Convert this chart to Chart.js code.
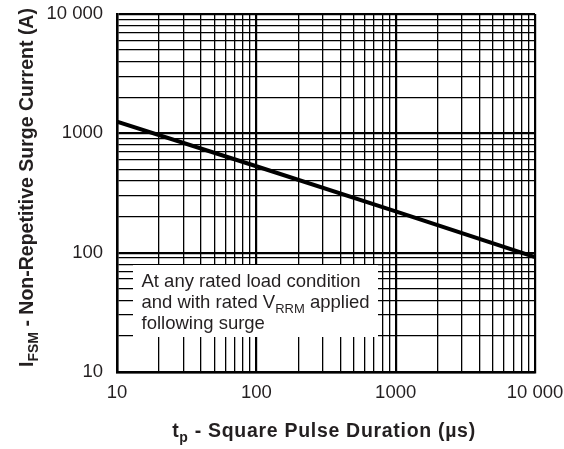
<!DOCTYPE html>
<html><head><meta charset="utf-8">
<script src="https://cdn.jsdelivr.net/npm/chart.js@4.4.1/dist/chart.umd.min.js"></script>
<style>html,body{margin:0;padding:0;background:#fff}#wrap{width:564px;height:449px}</style>
</head><body><div id="wrap"><canvas id="c"></canvas></div>
<script>
const pulseDuration = [10, 100, 1000, 10000];
const surgeCurrent = [1250, 530, 222, 92];
const decadeTicks = [10, 100, 1000, 10000];
const decadeLabels = ['10', '100', '1000', '10 000'];
const noteLines = ['At any rated load condition', 'and with rated V|RRM| applied', 'following surge'];

const FONT = '"Liberation Sans", Arial, Helvetica, sans-serif';
const INK = '#231f20';

function gridValues(min, max) {
  const out = [];
  for (let d = min; d < max; d *= 10) for (let m = 1; m < 10; m++) out.push(d * m);
  out.push(max);
  return out;
}
function isDecade(v) { return decadeTicks.includes(Math.round(v)); }
function labelFor(v) { const i = decadeTicks.indexOf(Math.round(v)); return i >= 0 ? decadeLabels[i] : ''; }

function drawSubText(ctx, text, x, y, size, bold, align, spacing) {
  const parts = text.split('|');
  const big = (bold ? 'bold ' : '') + size + 'px ' + FONT;
  const small = (bold ? 'bold ' : '') + Math.round(size * 0.72) + 'px ' + FONT;
  ctx.letterSpacing = (spacing || 0) + 'px';
  let total = 0;
  parts.forEach((p, i) => { ctx.font = i % 2 ? small : big; total += ctx.measureText(p).width; });
  let cx = align === 'center' ? x - total / 2 : x;
  ctx.textAlign = 'left';
  ctx.textBaseline = 'alphabetic';
  parts.forEach((p, i) => {
    ctx.font = i % 2 ? small : big;
    ctx.fillText(p, cx, y + (i % 2 ? size * 0.28 : 0));
    cx += ctx.measureText(p).width;
  });
  ctx.letterSpacing = '0px';
}

const overlay = {
  id: 'overlay',
  beforeDatasetsDraw(chart) {
    const { ctx, chartArea: a } = chart;
    ctx.save();
    const bx = a.left + 16, by = a.top + 251, bw = 245, bh = 72;
    ctx.fillStyle = '#fff';
    ctx.fillRect(bx, by, bw, bh);
    ctx.fillStyle = INK;
    noteLines.forEach((t, i) => drawSubText(ctx, t, bx + 8.5, by + 22 + i * 21, 18.5, false, 'left', 0));
    ctx.restore();
  },
  afterDraw(chart) {
    const { ctx } = chart;
    ctx.save();
    ctx.fillStyle = INK;
    drawSubText(ctx, 't|p| - Square Pulse Duration (µs)', 324, 436.5, 19.5, true, 'center', 0.7);
    ctx.translate(32.5, 187.5);
    ctx.rotate(-Math.PI / 2);
    drawSubText(ctx, 'I|FSM| - Non-Repetitive Surge Current (A)', 0, 0, 19.5, true, 'center', 0);
    ctx.restore();
  }
};

const gridOpts = {
  color: '#000',
  lineWidth: c => isDecade(c.tick.value) ? 2.2 : 1.3,
  drawTicks: false
};

new Chart(document.getElementById('c'), {
  type: 'line',
  data: {
    datasets: [{
      data: pulseDuration.map((x, i) => ({ x: x, y: surgeCurrent[i] })),
      borderColor: '#000',
      borderWidth: 4,
      pointRadius: 0,
      tension: 0
    }]
  },
  options: {
    responsive: true,
    maintainAspectRatio: false,
    animation: false,
    layout: { padding: { top: 14, right: 29, left: 0, bottom: 0 } },
    plugins: { legend: { display: false }, tooltip: { enabled: false } },
    scales: {
      x: {
        type: 'logarithmic', min: 10, max: 10000,
        afterBuildTicks: s => { s.ticks = gridValues(10, 10000).map(v => ({ value: v })); },
        afterFit: s => { s.height = 77; s.paddingLeft = 0; s.paddingRight = 0; },
        ticks: { autoSkip: false, maxRotation: 0, padding: 10, color: INK,
          font: { family: FONT, size: 18.5 }, callback: v => labelFor(v) },
        grid: gridOpts,
        border: { color: '#000', width: 2.5 }
      },
      y: {
        type: 'logarithmic', min: 10, max: 10000,
        afterBuildTicks: s => { s.ticks = gridValues(10, 10000).map(v => ({ value: v })); },
        afterFit: s => { s.width = 117; s.paddingTop = 0; s.paddingBottom = 0; },
        ticks: { autoSkip: false, padding: 14, color: INK,
          font: { family: FONT, size: 18.5 }, callback: v => labelFor(v) },
        grid: gridOpts,
        border: { color: '#000', width: 2.5 }
      }
    }
  },
  plugins: [overlay]
});
</script></body></html>
